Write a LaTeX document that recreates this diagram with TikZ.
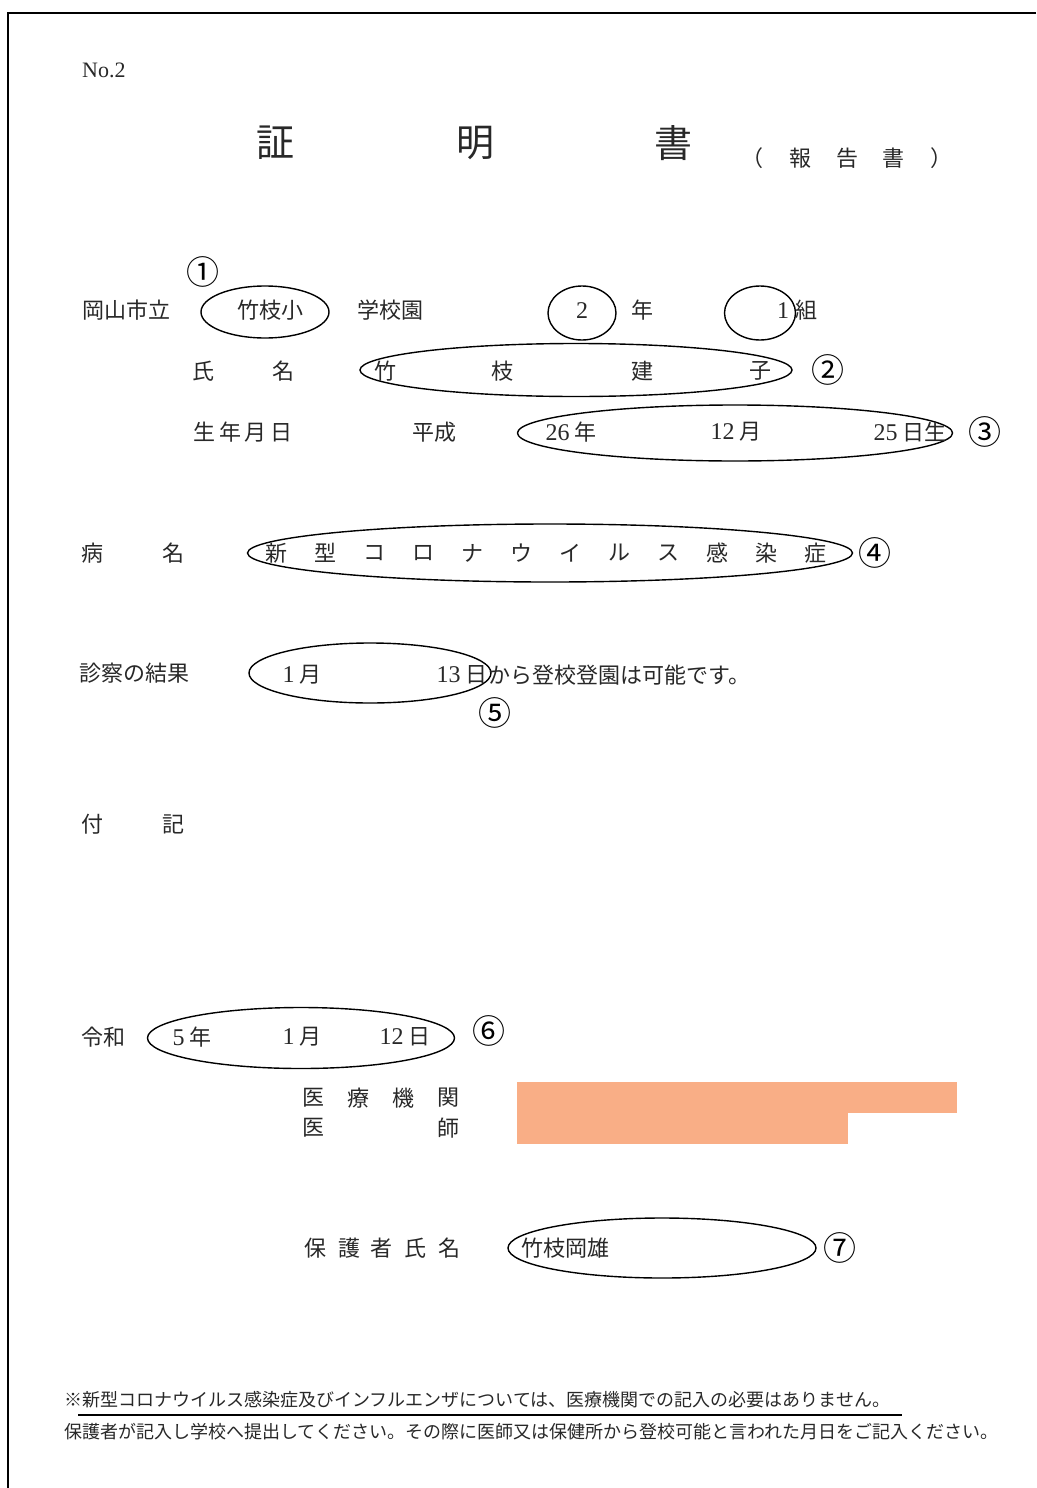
\documentclass[tikz,border=0pt]{standalone}
\usepackage{fontspec}
\setmainfont{Liberation Serif}
\newfontfamily\jp{Noto Sans CJK JP}
\usetikzlibrary{shapes.geometric}
\usetikzlibrary{positioning}
\definecolor{peach}{RGB}{249,174,134}
\definecolor{ink}{RGB}{40,40,40}
\newcommand\dg[1]{{\rmfamily\fontsize{24}{24}\selectfont #1}}

\begin{document}
\begin{tikzpicture}[x=1pt, y=-1pt, inner sep=0pt, node distance=49pt,
    txt/.style={text=ink, font=\jp\fontsize{22}{22}\selectfont},
    big/.style={text=ink, font=\jp\fontsize{38}{38}\selectfont},
    note/.style={text=ink, font=\jp\fontsize{18}{18}\selectfont, anchor=west},
    num/.style={font=\jp\fontsize{33}{33}\selectfont},
    ring/.style={draw, ellipse, line width=1.4pt}]
        \useasboundingbox (0,0) rectangle (1036,1488);
        \draw[line width=2.5pt] (1036,13) -- (8,13) -- (8,1488);

        \node[txt, anchor=west] (no) at (82,70) {\rmfamily No.2};
        \node[big] (t1) at (275,143) {証};
        \node[big] (t2) at (475,143) {明};
        \node[big] (t3) at (673,143) {書};
        \node[txt] (p1) at (752,158) {（};
        \node[txt] (r1) at (800,158) {報};
        \node[txt] (r2) [right of=r1, node distance=47pt] {告};
        \node[txt] (r3) [right of=r2, node distance=46pt] {書};
        \node[txt] (p2) at (941,158) {）};

        \node[txt] (city) at (126,310) {岡山市立};
        \node[ring, minimum width=128pt, minimum height=52pt] (school) at (265,312) {};
        \node[txt] (schooltxt) at (270,310) {竹枝小};
        \node[num] (n1) at (203,272) {①};
        \node[txt] (kind) at (390,310) {学校園};
        \node[ring, minimum width=68pt, minimum height=54pt] (grade) at (582,313) {};
        \node[txt] (gradetxt) at (582,311) {\dg{2}};
        \node[txt] (nen) at (642,310) {年};
        \node[ring, minimum width=71pt, minimum height=54pt] (cls) at (760,313) {};
        \node[txt] (clstxt) at (783,311) {\dg{1}};
        \node[txt] (kumi) at (806,310) {組};

        \node[txt] (shi) at (203,371) {氏};
        \node[txt] (mei) at (283,371) {名};
        \node[ring, minimum width=432pt, minimum height=53pt] (name) at (576,370) {};
        \node[txt] (c1) at (385,371) {竹};
        \node[txt] (c2) at (502,371) {枝};
        \node[txt] (c3) at (642,371) {建};
        \node[txt] (c4) at (760,371) {子};
        \node[num] (n2) at (828,370) {②};

        \node[txt] (born) at (243,432) {生\,年\,月\,日};
        \node[txt] (era1) at (434,432) {平成};
        \node[ring, minimum width=435pt, minimum height=56pt] (birth) at (735,433) {};
        \node[txt] (by) at (571,432) {\dg{26} 年};
        \node[txt] (bm) at (736,432) {\dg{12} 月};
        \node[txt] (bd) at (910,432) {\dg{25} 日生};
        \node[num] (n3) at (985,432) {③};

        \node[txt] (byo) at (92,553) {病};
        \node[txt] (myo) at (173,553) {名};
        \node[ring, minimum width=605pt, minimum height=58pt] (ill) at (550,553) {};
        \node[txt] (d1) at (276,553) {新};
        \node[txt] (d2) [right of=d1] {型};
        \node[txt] (d3) [right of=d2] {コ};
        \node[txt] (d4) [right of=d3] {ロ};
        \node[txt] (d5) [right of=d4] {ナ};
        \node[txt] (d6) [right of=d5] {ウ};
        \node[txt] (d7) [right of=d6] {イ};
        \node[txt] (d8) [right of=d7] {ル};
        \node[txt] (d9) [right of=d8] {ス};
        \node[txt] (d10) [right of=d9] {感};
        \node[txt] (d11) [right of=d10] {染};
        \node[txt] (d12) [right of=d11] {症};
        \node[num] (n4) at (875,553) {④};

        \node[txt] (exam) at (134,673) {診察の結果};
        \node[ring, minimum width=242pt, minimum height=60pt] (result) at (370,673) {};
        \node[txt] (rm) at (302,675) {\dg{1} 月};
        \node[txt] (rd) at (462,675) {\dg{13} 日};
        \node[txt, anchor=west] (ok) at (488,675) {から登校登園は可能です。};
        \node[num] (n5) at (495,713) {⑤};

        \node[txt] (fu) at (92,824) {付};
        \node[txt] (ki) at (173,824) {記};

        \node[txt] (era2) at (103,1037) {令和};
        \node[ring, minimum width=307pt, minimum height=61pt] (date) at (301,1038) {};
        \node[txt] (dy) at (192,1037) {\dg{5} 年};
        \node[txt] (dm) at (302,1037) {\dg{1} 月};
        \node[txt] (dd) at (405,1037) {\dg{12} 日};
        \node[num] (n6) at (489,1031) {⑥};

        \node[txt] (h1) at (313,1098) {医};
        \node[txt] (h2) at (358,1098) {療};
        \node[txt] (h3) at (403,1098) {機};
        \node[txt] (h4) at (448,1098) {関};
        \node[txt] (i1) at (313,1128) {医};
        \node[txt] (i2) at (448,1128) {師};
        \fill[peach] (517,1082) rectangle (957,1113);
        \fill[peach] (517,1113) rectangle (848,1144);

        \node[txt] (g1) at (315,1248) {保};
        \node[txt] (g2) at (349,1248) {護};
        \node[txt] (g3) at (381,1248) {者};
        \node[txt] (g4) at (415,1248) {氏};
        \node[txt] (g5) at (449,1248) {名};
        \node[ring, minimum width=308pt, minimum height=60pt] (guard) at (662,1248) {};
        \node[txt] (guardtxt) at (565,1248) {竹枝岡雄};
        \node[num] (n7) at (840,1248) {⑦};

        \node[note] (f1) at (64,1400) {※新型コロナウイルス感染症及びインフルエンザについては、医療機関での記入の必要はありません。};
        \draw[line width=2.5pt] (78,1415) -- (902,1415);
        \node[note] (f2) at (64,1432) {保護者が記入し学校へ提出してください。その際に医師又は保健所から登校可能と言われた月日をご記入ください。};
    \end{tikzpicture}
\end{document}
